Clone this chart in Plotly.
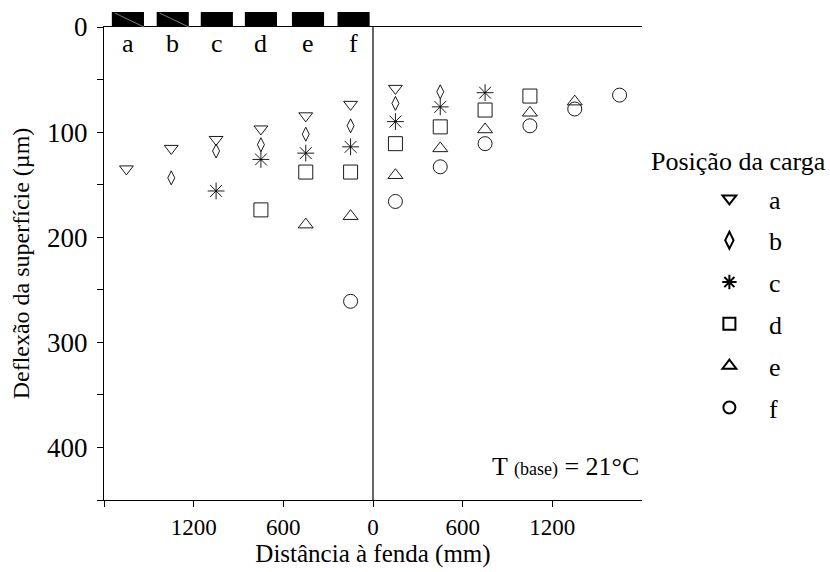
import plotly.graph_objects as go

# ---------------- data ----------------
a_x = [-1650, -1350, -1050, -750, -450, -150, 150]
a_y = [135, 115.5, 107, 97, 84.5, 73.6, 58.4]
b_x = [-1350, -1050, -750, -450, -150, 150, 450]
b_y = [143.5, 118, 112, 102, 94, 72.7, 61.6]
c_x = [-1050, -750, -450, -150, 150, 450, 750]
c_y = [156, 126, 120, 114, 90, 76, 62.5]
d_x = [-750, -450, -150, 150, 450, 750, 1050]
d_y = [174, 138, 138, 111, 95, 79, 65.7]
e_x = [-450, -150, 150, 450, 750, 1050, 1350]
e_y = [188, 180, 141, 115.5, 97.5, 81.6, 71]
f_x = [-150, 150, 450, 750, 1050, 1350, 1650]
f_y = [261, 166, 133, 111, 94, 78, 64.8]

series_names = ["a", "b", "c", "d", "e", "f"]
load_centers = [-1640, -1340, -1045, -750, -435, -130]
load_width = 215

x_tickvals = [-1800, -1200, -600, 0, 600, 1200]
x_ticktext = ["", "1200", "600", "0", "600", "1200"]
y_tickvals = [0, 100, 200, 300, 400]

FONT = "Liberation Serif"

symbols = ["triangle-down-open", "diamond-tall-open", "asterisk-open",
           "square-open", "triangle-up-open", "circle-open"]
sizes = [12, 10, 14, 14, 13, 14]
xs = [a_x, b_x, c_x, d_x, e_x, f_x]
ys = [a_y, b_y, c_y, d_y, e_y, f_y]

fig = go.Figure()
for i, name in enumerate(series_names):
    fig.add_trace(go.Scatter(
        x=xs[i], y=ys[i], mode="markers", name=name,
        legendgroup=name,
        marker=dict(symbol=symbols[i], size=sizes[i], color="black",
                    line=dict(color="black", width=0.9)),
        cliponaxis=False,
    ))

shapes = []
# vertical line at crack
shapes.append(dict(type="line", xref="x", yref="y", x0=0, x1=0, y0=0, y1=450,
                   line=dict(color="black", width=1.2)))
# load bars above plot
bar_h = 15 / 473
for i, cx in enumerate(load_centers):
    shapes.append(dict(type="rect", xref="x", yref="paper",
                       x0=cx - load_width / 2, x1=cx + load_width / 2,
                       y0=1, y1=1 + bar_h, fillcolor="black",
                       line=dict(color="black", width=0)))
    if i < 2:
        shapes.append(dict(type="line", xref="x", yref="paper",
                           x0=cx - load_width / 2 + 20, x1=cx + load_width / 2,
                           y0=1 + bar_h * 0.93, y1=1,
                           line=dict(color="#9a9a9a", width=0.8)))

annotations = []
for i, cx in enumerate(load_centers):
    annotations.append(dict(x=cx, y=0, xref="x", yref="y", text=series_names[i],
                            showarrow=False, yanchor="top", yshift=0,
                            font=dict(family=FONT, size=26, color="black")))

annotations.append(dict(x=0.999, y=0.07, xref="paper", yref="paper",
                        xanchor="right", yanchor="middle", showarrow=False,
                        text="T <span style='font-size:18px'>(base)</span> = 21°C",
                        font=dict(family=FONT, size=26, color="black")))
# legend title
annotations.append(dict(x=1.0, y=0.716, xref="paper", yref="paper",
                        xanchor="left", yanchor="middle", xshift=7, showarrow=False,
                        text="Posição da carga",
                        font=dict(family=FONT, size=26, color="black")))

fig.update_layout(
    width=830, height=572,
    margin=dict(l=104, r=188, t=27, b=72),
    paper_bgcolor="white", plot_bgcolor="white",
    font=dict(family=FONT, size=26, color="black"),
    shapes=shapes, annotations=annotations,
    showlegend=True,
    legend=dict(x=1.089, y=0.687, xanchor="left", yanchor="top",
                itemsizing="constant", tracegroupgap=5, itemwidth=69,
                font=dict(family=FONT, size=26, color="black"),
                bgcolor="rgba(0,0,0,0)"),
    xaxis=dict(range=[-1800, 1800], tickvals=x_tickvals, ticktext=x_ticktext,
               ticks="outside", ticklen=6, tickcolor="black", tickwidth=1,
               showline=True, linecolor="black", linewidth=1.2, mirror=True,
               showgrid=False, zeroline=False,
               tickfont=dict(family=FONT, size=23),
               title=dict(text="Distância à fenda (mm)", standoff=0,
                          font=dict(family=FONT, size=25))),
    yaxis=dict(range=[450, 0], tickvals=y_tickvals,
               ticks="outside", ticklen=6, tickcolor="black", tickwidth=1,
               minor=dict(dtick=50, tick0=0, ticks="outside", ticklen=6,
                          tickcolor="black", showgrid=False),
               showline=True, linecolor="black", linewidth=1.2,
               showgrid=False, zeroline=False, ticklabelstandoff=4,
               tickfont=dict(family=FONT, size=27),
               title=dict(text="Deflexão da superfície (µm)", standoff=10,
                          font=dict(family=FONT, size=24))),
)

fig.write_html("out.html")
